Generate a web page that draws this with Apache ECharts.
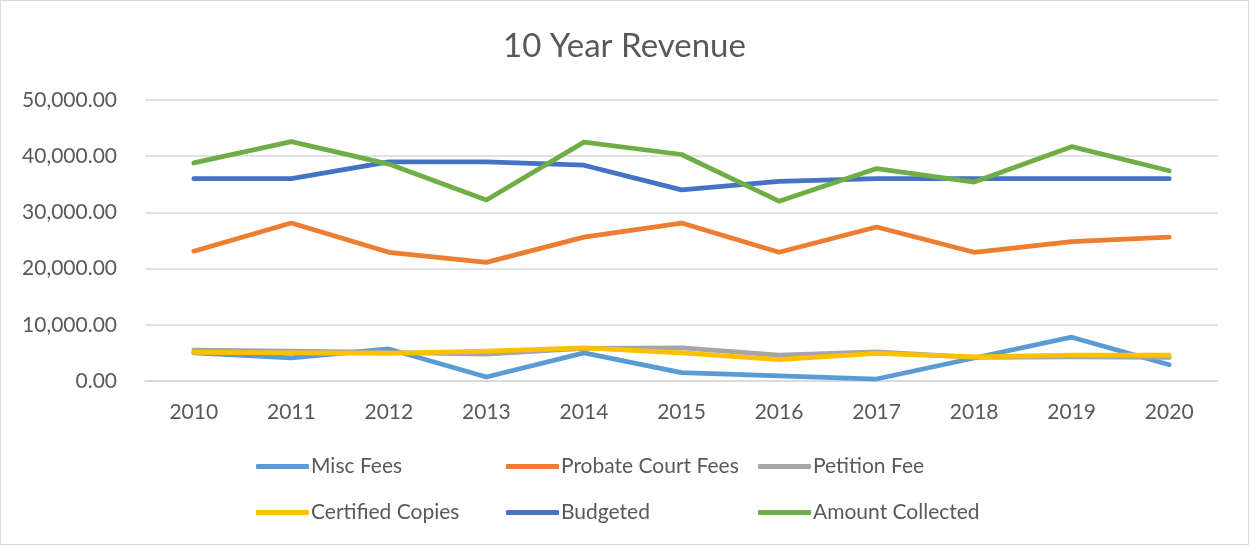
<!DOCTYPE html>
<html>
<head>
<meta charset="utf-8">
<script src="https://cdn.jsdelivr.net/npm/echarts@6/dist/echarts.min.js"></script>
<style>
  html, body { margin: 0; padding: 0; background: #fff; }
  #chart { width: 1249px; height: 545px; border: 1px solid #d9d9d9; box-sizing: border-box; }
</style>
</head>
<body>
<div id="chart"></div>
<script>
// categories + series values
const years = ['2010','2011','2012','2013','2014','2015','2016','2017','2018','2019','2020'];
const miscFees = [5000, 4100, 5700, 700, 5000, 1500, 900, 350, 4100, 7800, 2900];
const probateFees = [23100, 28100, 22900, 21100, 25600, 28100, 22900, 27400, 22900, 24800, 25600];
const petitionFee = [5500, 5300, 5100, 4800, 5800, 5900, 4600, 5200, 4200, 4300, 4200];
const certifiedCopies = [5100, 5000, 4900, 5300, 5900, 5000, 3800, 4900, 4300, 4600, 4600];
const budgeted = [36000, 36000, 39000, 39000, 38400, 34000, 35500, 36000, 36000, 36000, 36000];
const amountCollected = [38800, 42600, 38600, 32200, 42500, 40300, 32000, 37800, 35400, 41700, 37400];

// legend columns (same order as reference, column by column)
const legendCols = [
  ['Misc Fees', 'Certified Copies'],
  ['Probate Court Fees', 'Budgeted'],
  ['Petition Fee', 'Amount Collected']
];

const FONT = 'Lato, "Open Sans", sans-serif';
const TXT = '#595959';

let myChart = echarts.init(document.getElementById('chart'));

function mkSeries(name, data, color) {
  return {
    name: name,
    type: 'line',
    data: data,
    symbol: 'none',
    color: color,
    lineStyle: { width: 4.75, color: color, cap: 'round', join: 'round' }
  };
}

let colLeft = [255, 505, 757];
let legends = legendCols.map(function (names, i) {
  return {
    orient: 'vertical',
    left: colLeft[i],
    top: 455,
    padding: 0,
    itemWidth: 53,
    itemHeight: 5,
    itemGap: 25,
    icon: 'roundRect',
    data: names,
    textStyle: { fontFamily: FONT, fontSize: 21, color: TXT, padding: [0, 0, 0, -3] }
  };
});

myChart.setOption({
  animation: false,
  title: {
    text: '10 Year Revenue',
    left: 'center',
    top: 24,
    textStyle: { fontFamily: FONT, fontSize: 33, fontWeight: 'normal', color: TXT }
  },
  legend: legends,
  grid: { left: 144, right: 30, top: 99, bottom: 163, containLabel: false, outerBoundsMode: 'none' },
  xAxis: {
    type: 'category',
    data: years,
    boundaryGap: true,
    axisLine: { lineStyle: { color: '#d9d9d9', width: 1.5 } },
    axisTick: { show: false },
    axisLabel: { fontFamily: FONT, fontSize: 21, color: TXT, margin: 21 }
  },
  yAxis: {
    type: 'value',
    min: 0,
    max: 50000,
    interval: 10000,
    axisLine: { show: false },
    axisTick: { show: false },
    splitLine: { lineStyle: { color: '#d9d9d9', width: 1.5 } },
    axisLabel: {
      fontFamily: FONT, fontSize: 21, color: TXT, margin: 28,
      formatter: function (v) {
        return v.toLocaleString('en-US', { minimumFractionDigits: 2, maximumFractionDigits: 2 });
      }
    }
  },
  series: [
    mkSeries('Misc Fees', miscFees, '#5b9bd5'),
    mkSeries('Probate Court Fees', probateFees, '#ed7d31'),
    mkSeries('Petition Fee', petitionFee, '#a5a5a5'),
    mkSeries('Certified Copies', certifiedCopies, '#ffc000'),
    mkSeries('Budgeted', budgeted, '#4472c4'),
    mkSeries('Amount Collected', amountCollected, '#70ad47')
  ]
});
</script>
</body>
</html>
